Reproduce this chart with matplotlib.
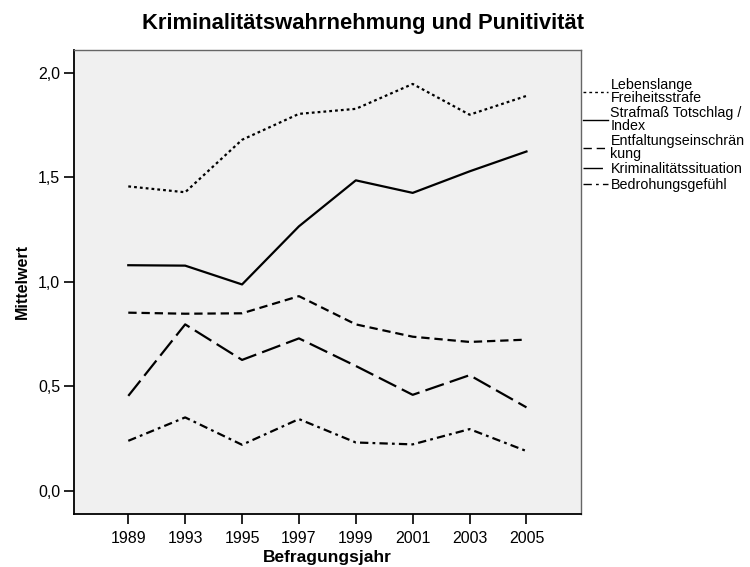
import matplotlib
matplotlib.use("Agg")
import matplotlib.pyplot as plt
import numpy as np

# -------------------------------
# Data (Mittelwerte je Befragungsjahr)
# -------------------------------
years = ['1989', '1993', '1995', '1997', '1999', '2001', '2003', '2005']

lebenslange = [1.457, 1.429, 1.680, 1.804, 1.828, 1.947, 1.800, 1.890]
strafmass = [1.080, 1.078, 0.988, 1.266, 1.486, 1.426, 1.529, 1.624]
entfaltung = [0.853, 0.848, 0.850, 0.932, 0.797, 0.738, 0.713, 0.724]
kriminalitaet = [0.455, 0.797, 0.627, 0.730, 0.598, 0.460, 0.554, 0.400]
bedrohung = [0.240, 0.352, 0.221, 0.344, 0.232, 0.223, 0.296, 0.191]

labels = [
    'Lebenslange\nFreiheitsstrafe',
    'Strafmaß Totschlag /\nIndex',
    'Entfaltungseinschrän\nkung',
    'Kriminalitätssituation',
    'Bedrohungsgefühl',
]

plt.rcParams['font.family'] = ['Liberation Sans', 'DejaVu Sans']
plt.rcParams['lines.scale_dashes'] = False

fig = plt.figure(figsize=(7.5, 5.67), dpi=100)
ax = fig.add_axes([0.099, 0.0935, 0.675, 0.8185])
ax.set_facecolor('#f0f0f0')

x = np.arange(len(years))
styles = [
    (0, (2.0, 2.2)),
    '-',
    (0, (6, 3.5)),
    (0, (14, 4.5)),
    (0, (6, 3, 2, 3)),
]
series = [lebenslange, strafmass, entfaltung, kriminalitaet, bedrohung]

handles = []
for vals, ls, lab in zip(series, styles, labels):
    h, = ax.plot(x, vals, color='black', linewidth=1.6, linestyle=ls,
                 label=lab)
    handles.append(h)

ax.set_xlim(-0.95, 7.95)
ax.set_ylim(-0.11, 2.11)
ax.set_xticks(x)
ax.set_xticklabels(years)
yt = [0.0, 0.5, 1.0, 1.5, 2.0]
ax.set_yticks(yt)
ax.set_yticklabels([f'{v:.1f}'.replace('.', ',') for v in yt])
ax.tick_params(direction='out', length=7, width=1.2, labelsize=11.5,
               color='black', pad=3)
ax.tick_params(axis='x', pad=5)

for side in ['left', 'bottom']:
    ax.spines[side].set_color('black')
    ax.spines[side].set_linewidth(1.3)
for side in ['top', 'right']:
    ax.spines[side].set_color('#666666')
    ax.spines[side].set_linewidth(1.0)

ax.set_xlabel('Befragungsjahr', fontsize=12.5, fontweight='bold', labelpad=3)
ax.set_ylabel('Mittelwert', fontsize=11.5, fontweight='bold', labelpad=6)

fig.text(0.484, 0.958, 'Kriminalitätswahrnehmung und Punitivität',
         ha='center', va='center', fontsize=15.8, fontweight='bold')

leg = fig.legend(handles=handles, loc='upper left',
                 bbox_to_anchor=(0.770, 0.872), frameon=False, fontsize=10.3,
                 handlelength=1.7, handletextpad=0.2, labelspacing=0.12,
                 borderaxespad=0)
for t in leg.get_texts():
    t.set_linespacing(0.85)
for ln in leg.get_lines():
    ln.set_linewidth(1.0)

plt.savefig('out.png', dpi=100)
